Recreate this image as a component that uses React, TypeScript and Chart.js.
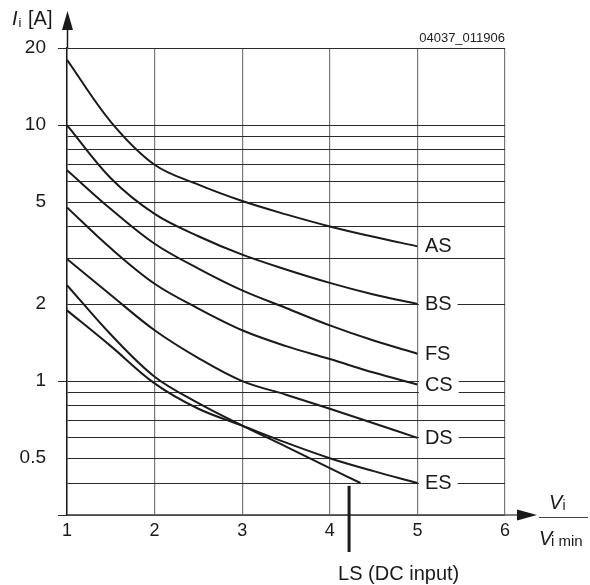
import { useEffect, useRef } from "react";
import { Chart, registerables } from "chart.js";

Chart.register(...registerables);

// ---- data ----
const xValues = [1, 1.5, 2, 2.5, 3, 3.5, 4, 4.5, 5];
const asValues = [18, 10.3, 7.0, 5.85, 5.05, 4.48, 4.02, 3.66, 3.36];
const bsValues = [10, 6.2, 4.5, 3.68, 3.12, 2.73, 2.42, 2.18, 2.0];
const fsValues = [6.66, 4.7, 3.44, 2.75, 2.26, 1.93, 1.65, 1.44, 1.28];
const csValues = [4.77, 3.3, 2.4, 1.92, 1.58, 1.37, 1.22, 1.08, 0.97];
const dsValues = [3.0, 2.17, 1.58, 1.23, 1.0, 0.885, 0.78, 0.685, 0.6];
const esValues = [1.89, 1.37, 0.98, 0.78, 0.67, 0.575, 0.5, 0.445, 0.4];
const lsX = [1, 1.5, 2, 2.5, 3, 3.5, 4, 4.35];
const lsValues = [2.37, 1.52, 1.04, 0.82, 0.67, 0.555, 0.457, 0.4];

const seriesNames = ["AS", "BS", "FS", "CS", "DS", "ES"];
const seriesValues = [asValues, bsValues, fsValues, csValues, dsValues, esValues];

const yGridValues = [0.3, 0.4, 0.5, 0.6, 0.7, 0.8, 0.9, 1, 2, 3, 4, 5, 6, 7, 8, 9, 10, 20];
const yLabelValues = [0.5, 1, 2, 5, 10, 20];
const yLongTicks = [0.3, 1, 10, 20];
const xTicks = [1, 2, 3, 4, 5, 6];

const lsMarkerX = 4.22;
const lsMarkerTop = 0.39;
const lsNote = "LS (DC input)";
const drawingCode = "04037_011906";

const FONT = "'Liberation Sans', Arial, Helvetica, sans-serif";
const INK = "#1a1a1a";

const overlayPlugin = {
  id: "overlay",
  afterDatasetsDraw(chart: any) {
    const ctx = chart.ctx as CanvasRenderingContext2D;
    const { left, right, top, bottom } = chart.chartArea;
    const xs = chart.scales.x;
    const ys = chart.scales.y;
    ctx.save();

    // curve labels at the right end
    ctx.font = `20px ${FONT}`;
    ctx.textBaseline = "middle";
    ctx.textAlign = "left";
    chart.data.datasets.forEach((ds: any, i: number) => {
      if (ds.label === "LS") return;
      const meta = chart.getDatasetMeta(i);
      const pt = meta.data[meta.data.length - 1];
      const w = ctx.measureText(ds.label).width;
      ctx.fillStyle = "#ffffff";
      ctx.fillRect(pt.x + 1.5, pt.y - 11, w + 12, 22);
      ctx.fillStyle = INK;
      ctx.fillText(ds.label, pt.x + 7.5, pt.y + 0.5);
    });

    // LS marker line and note
    const mx = xs.getPixelForValue(lsMarkerX);
    const my = ys.getPixelForValue(lsMarkerTop);
    ctx.strokeStyle = INK;
    ctx.lineWidth = 3;
    ctx.beginPath();
    ctx.moveTo(mx, my);
    ctx.lineTo(mx, bottom + 37);
    ctx.stroke();
    ctx.font = `20px ${FONT}`;
    ctx.textBaseline = "alphabetic";
    ctx.fillStyle = INK;
    ctx.fillText(lsNote, mx - 11, bottom + 65);

    // axis arrows
    ctx.fillStyle = INK;
    ctx.strokeStyle = INK;
    ctx.lineWidth = 1.5;
    ctx.beginPath();
    ctx.moveTo(left + 0.5, top);
    ctx.lineTo(left + 0.5, top - 18);
    ctx.stroke();
    ctx.beginPath();
    ctx.moveTo(left + 0.5, top - 37);
    ctx.lineTo(left - 5, top - 18);
    ctx.lineTo(left + 6, top - 18);
    ctx.closePath();
    ctx.fill();

    ctx.strokeStyle = "#555";
    ctx.beginPath();
    ctx.moveTo(right, bottom);
    ctx.lineTo(right + 13, bottom);
    ctx.stroke();
    ctx.fillStyle = INK;
    ctx.beginPath();
    ctx.moveTo(right + 32, bottom);
    ctx.lineTo(right + 12, bottom - 5.5);
    ctx.lineTo(right + 12, bottom + 5.5);
    ctx.closePath();
    ctx.fill();

    // y-axis title  I_i [A]
    ctx.fillStyle = INK;
    ctx.textBaseline = "alphabetic";
    ctx.font = `italic 20px ${FONT}`;
    ctx.fillText("I", 12, 25);
    ctx.font = `13px ${FONT}`;
    ctx.fillText("i", 18.5, 27);
    ctx.font = `20px ${FONT}`;
    ctx.fillText("[A]", 28, 25);

    // x-axis title  V_i / V_i min
    ctx.font = `italic 20px ${FONT}`;
    ctx.fillText("V", 549, 509);
    ctx.font = `14px ${FONT}`;
    ctx.fillText("i", 562.5, 510);
    ctx.strokeStyle = "#444";
    ctx.lineWidth = 1;
    ctx.beginPath();
    ctx.moveTo(539, 517.5);
    ctx.lineTo(588, 517.5);
    ctx.stroke();
    ctx.font = `italic 20px ${FONT}`;
    ctx.fillText("V", 539, 545);
    ctx.font = `15px ${FONT}`;
    ctx.fillText("i min", 551, 546);

    // drawing code
    ctx.font = `13px ${FONT}`;
    ctx.textAlign = "right";
    ctx.fillStyle = "#222";
    ctx.fillText(drawingCode, right, 42);

    ctx.restore();
  },
};

export default function App() {
  const canvasRef = useRef<HTMLCanvasElement | null>(null);

  useEffect(() => {
    if (!canvasRef.current) return;
    const datasets: any[] = seriesNames.map((name, i) => ({
      label: name,
      data: xValues.map((x, j) => ({ x, y: seriesValues[i][j] })),
    }));
    datasets.push({
      label: "LS",
      data: lsX.map((x, j) => ({ x, y: lsValues[j] })),
    });
    datasets.forEach((d) => {
      d.borderColor = INK;
      d.borderWidth = 2;
      d.pointRadius = 0;
      d.fill = false;
      d.tension = 0.35;
    });

    const chart = new Chart(canvasRef.current, {
      type: "line",
      data: { datasets },
      options: {
        responsive: false,
        animation: false,
        layout: { padding: { top: 48, right: 85, left: 0, bottom: 0 } },
        plugins: {
          legend: { display: false },
          tooltip: { enabled: false },
        },
        scales: {
          x: {
            type: "linear",
            min: 1,
            max: 6,
            afterBuildTicks: (scale: any) => {
              scale.ticks = xTicks.map((v) => ({ value: v }));
            },
            afterFit: (scale: any) => {
              scale.height = 70;
            },
            grid: {
              color: "#777",
              lineWidth: 1.2,
              tickLength: 3,
              tickColor: "rgba(0,0,0,0)",
            },
            border: { display: true, color: "#666", width: 1.5 },
            ticks: {
              padding: 2,
              color: INK,
              font: { family: FONT, size: 18 },
              maxRotation: 0,
              autoSkip: false,
            },
          },
          y: {
            type: "logarithmic",
            min: 0.3,
            max: 20,
            afterBuildTicks: (scale: any) => {
              scale.ticks = yGridValues.map((v) => ({ value: v }));
            },
            afterFit: (scale: any) => {
              scale.width = 67;
            },
            grid: {
              color: "#2a2a2a",
              lineWidth: 1,
              tickLength: 9,
              tickColor: (c: any) =>
                c.tick && yLongTicks.includes(c.tick.value) ? "#2a2a2a" : "rgba(0,0,0,0)",
            },
            border: { display: true, color: INK, width: 1.5 },
            ticks: {
              padding: 12,
              color: INK,
              autoSkip: false,
              font: { family: FONT, size: 19 },
              callback: (v: any) => (yLabelValues.includes(Number(v)) ? String(v) : ""),
            },
          },
        },
      },
      plugins: [overlayPlugin],
    });
    return () => chart.destroy();
  }, []);

  return (
    <div style={{ position: "absolute", left: 0, top: 0, width: 590, height: 585, background: "#fff" }}>
      <canvas ref={canvasRef} width={590} height={585} />
    </div>
  );
}
